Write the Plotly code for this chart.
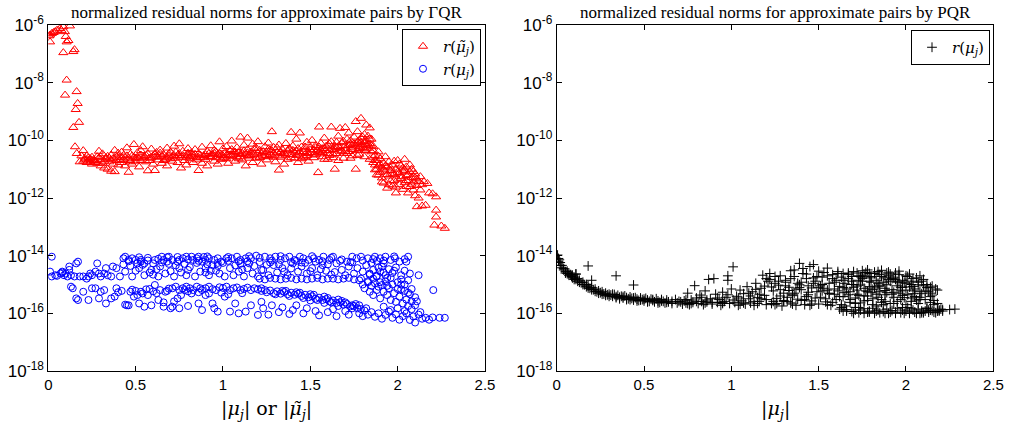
import plotly.graph_objects as go

# ---- left panel: Gamma-QR approximate pairs ----
red_mu = [
    0.005, 0.01, 0.01, 0.02, 0.03, 0.04, 0.05, 0.067, 0.075, 0.086,
    0.095, 0.10, 0.105, 0.115, 0.124, 0.086, 0.143, 0.15, 0.105, 0.096,
    0.162, 0.168, 0.157, 0.143, 0.176, 0.153, 0.163, 0.20, 0.18, 0.19,
    0.20, 0.21, 0.22, 0.22, 0.23, 0.24, 0.25, 0.25, 0.26, 0.27,
    0.28, 0.28, 0.29, 0.30, 0.30, 0.31, 0.32, 0.32, 0.33, 0.34,
    0.34, 0.35, 0.36, 0.36, 0.37, 0.38, 0.38, 0.39, 0.40, 0.40,
    0.41, 0.42, 0.42, 0.43, 0.44, 0.45, 0.45, 0.46, 0.47, 0.47,
    0.48, 0.49, 0.49, 0.50, 0.51, 0.52, 0.52, 0.53, 0.54, 0.55,
    0.56, 0.57, 0.57, 0.58, 0.59, 0.60, 0.60, 0.61, 0.62, 0.63,
    0.64, 0.65, 0.65, 0.66, 0.67, 0.68, 0.68, 0.69, 0.70, 0.71,
    0.72, 0.72, 0.73, 0.74, 0.75, 0.75, 0.76, 0.76, 0.77, 0.78,
    0.79, 0.80, 0.80, 0.81, 0.82, 0.83, 0.83, 0.84, 0.85, 0.86,
    0.86, 0.87, 0.88, 0.88, 0.89, 0.90, 0.91, 0.91, 0.92, 0.93,
    0.94, 0.95, 0.95, 0.96, 0.97, 0.98, 0.98, 0.99, 1.00, 1.00,
    1.01, 1.02, 1.02, 1.03, 1.04, 1.05, 1.05, 1.06, 1.07, 1.08,
    1.08, 1.09, 1.10, 1.11, 1.11, 1.12, 1.13, 1.14, 1.14, 1.15,
    1.16, 1.17, 1.17, 1.18, 1.19, 1.20, 1.20, 1.21, 1.22, 1.23,
    1.24, 1.25, 1.25, 1.26, 1.27, 1.28, 1.28, 1.29, 1.30, 1.31,
    1.32, 1.32, 1.33, 1.34, 1.35, 1.35, 1.36, 1.37, 1.38, 1.39,
    1.39, 1.40, 1.41, 1.42, 1.42, 1.43, 1.44, 1.44, 1.45, 1.46,
    1.47, 1.48, 1.48, 1.49, 1.50, 1.51, 1.51, 1.52, 1.53, 1.54,
    1.545, 1.55, 1.56, 1.56, 1.57, 1.58, 1.58, 1.59, 1.60, 1.61,
    1.62, 1.62, 1.63, 1.64, 1.64, 1.65, 1.66, 1.67, 1.67, 1.68,
    1.69, 1.70, 1.70, 1.71, 1.72, 1.72, 1.73, 1.74, 1.74, 1.75,
    1.76, 1.76, 1.77, 1.77, 1.78, 1.78, 1.79, 1.79, 1.80, 1.81,
    1.81, 1.82, 1.82, 1.83, 1.83, 1.84, 1.84, 1.85, 1.85, 1.86,
    1.86, 1.86, 1.87, 1.87, 1.88, 1.88, 1.89, 1.89, 1.90, 1.90,
    1.91, 1.91, 1.92, 1.92, 1.93, 1.93, 1.94, 1.94, 1.95, 1.95,
    1.96, 1.96, 1.97, 1.97, 1.98, 1.98, 1.99, 1.99, 2.00, 2.00,
    2.01, 2.01, 2.02, 2.02, 2.03, 2.03, 2.04, 2.04, 2.05, 2.05,
    2.06, 2.06, 2.07, 2.07, 2.08, 2.08, 2.09, 2.09, 2.10, 2.10,
    2.11, 2.11, 2.12, 2.12, 2.13, 2.13, 2.14, 2.15, 2.17, 2.18,
    2.20, 2.22, 2.11, 2.14, 2.16, 2.22, 2.22, 2.21, 2.25, 2.27,
    1.02, 1.06, 1.10, 1.13, 1.16, 1.19, 1.22, 1.26, 1.29, 1.33,
    1.36, 1.40, 1.43, 1.46, 1.49, 1.52, 1.55, 1.58, 1.61, 1.64,
    1.66, 1.68, 1.70, 1.72, 1.74, 1.76, 1.78, 1.80, 1.82, 1.84,
    0.26, 0.33, 0.39, 0.44, 0.50, 0.55, 0.62, 0.68, 0.74, 0.81,
    0.87, 0.93, 0.97, 1.04, 1.09, 1.15, 1.21, 1.27, 1.34, 1.41,
    1.47, 1.53, 1.57, 1.60, 1.63, 1.66, 1.69, 1.73, 1.77, 1.81,
    0.21, 0.24, 0.27, 0.29, 0.31, 0.35, 0.37, 0.41, 0.43, 0.46,
    0.48, 0.51, 0.53, 0.56, 0.58, 0.61, 0.63, 0.66, 0.69, 0.71,
    0.73, 0.77, 0.79, 0.82, 0.84, 0.89, 0.92, 0.94, 0.96, 0.99,
    1.01, 1.03, 1.07, 1.09, 1.12, 1.15, 1.18, 1.21, 1.23, 1.26,
    1.29, 1.31, 1.34, 1.37, 1.39, 1.42, 1.45, 1.47, 1.50, 1.53,
    1.55, 1.57, 1.59, 1.61, 1.63, 1.65, 1.67, 1.69, 1.71, 1.73,
    1.75, 1.77, 1.78, 1.79, 1.80, 1.81, 1.83, 1.84, 1.85, 1.86,
    1.87, 1.88, 1.89, 1.90, 1.92, 1.94, 1.96, 1.98, 2.00, 2.02,
    2.04, 2.06, 2.08, 2.10, 2.03, 2.07, 1.99, 1.95, 1.91, 2.05,
    0.23, 0.30, 0.36, 0.42, 0.47, 0.53, 0.59, 0.64, 0.70, 0.75,
    0.80, 0.85, 0.90, 0.95, 1.00, 1.05, 1.10, 1.14, 1.19, 1.24,
    1.28, 1.33, 1.38, 1.43, 1.48, 1.52, 1.56, 1.60, 1.65, 1.70,
    1.74, 1.78, 1.82, 1.87, 1.89, 1.93, 1.97, 2.01, 2.05, 2.09,
]
red_res = [
    4.2e-7, 4.5e-7, 2.6e-7, 5.1e-7, 5.5e-7, 5.9e-7, 6.6e-7, 7.6e-7, 6.5e-7, 8.7e-7,
    5.9e-7, 4.0e-7, 2.6e-7, 2.9e-7, 9.3e-7, 1.1e-7, 1.2e-7, 1.4e-7, 1.23e-8, 3.7e-9,
    4.9e-9, 1.9e-9, 1.17e-9, 2.8e-10, 4.2e-10, 6.0e-11, 3.5e-11, 4.4e-11, 1.8e-11, 2.9e-11,
    1.9e-11, 2.4e-11, 1.7e-11, 2.9e-11, 2.1e-11, 1.8e-11, 2.6e-11, 1.5e-11, 2.2e-11, 1.9e-11,
    2.7e-11, 1.6e-11, 4.2e-11, 2.2e-11, 1.3e-11, 3.4e-11, 1.9e-11, 1.1e-11, 2.5e-11, 1.0e-11,
    2.8e-11, 1.8e-11, 8.5e-12, 3.1e-11, 2.3e-11, 8.2e-12, 4.5e-11, 2.0e-11, 1.4e-11, 3.6e-11,
    2.6e-11, 1.7e-11, 3.9e-11, 2.2e-11, 1.3e-11, 2.9e-11, 5.5e-11, 7.8e-12, 2.0e-11, 3.3e-11,
    1.5e-11, 7.2e-11, 2.6e-11, 1.9e-11, 3.7e-11, 2.3e-11, 1.2e-11, 4.4e-11, 6.0e-11, 2.8e-11,
    1.8e-11, 8.8e-12, 3.4e-11, 2.4e-11, 5.0e-11, 1.5e-11, 2.9e-11, 9.0e-12, 3.8e-11, 2.1e-11,
    4.6e-11, 2.7e-11, 1.6e-11, 3.2e-11, 2.2e-11, 5.4e-11, 1.3e-11, 2.9e-11, 3.9e-11, 1.9e-11,
    3.0e-11, 6.3e-11, 2.4e-11, 1.7e-11, 7.6e-11, 3.5e-11, 1.1e-11, 2.6e-11, 4.2e-11, 2.0e-11,
    1.4e-11, 3.1e-11, 5.2e-11, 2.3e-11, 3.7e-11, 1.7e-11, 2.8e-11, 4.8e-11, 2.1e-11, 9.0e-12,
    3.4e-11, 2.5e-11, 1.6e-11, 5.8e-11, 3.0e-11, 2.2e-11, 4.1e-11, 1.3e-11, 2.7e-11, 6.5e-11,
    3.3e-11, 1.9e-11, 4.5e-11, 2.5e-11, 1.5e-11, 8.9e-11, 3.6e-11, 2.2e-11, 5.1e-11, 2.9e-11,
    3.7e-11, 2.3e-11, 6.1e-11, 1.6e-11, 4.4e-11, 2.8e-11, 9.5e-11, 3.3e-11, 1.9e-11, 5.6e-11,
    2.6e-11, 4.0e-11, 1.3e-10, 2.1e-11, 3.5e-11, 6.8e-11, 1.3e-11, 4.7e-11, 1.2e-10, 2.9e-11,
    3.9e-11, 1.7e-11, 7.4e-11, 5.2e-11, 2.4e-11, 3.6e-11, 9.0e-11, 4.5e-11, 1.5e-11, 2.8e-11,
    6.0e-11, 3.8e-11, 2.1e-11, 8.1e-11, 4.6e-11, 2.0e-10, 3.0e-11, 5.7e-11, 1.8e-11, 3.9e-11,
    9.3e-12, 6.9e-11, 2.6e-11, 4.8e-11, 1.5e-11, 3.5e-11, 7.8e-11, 2.2e-11, 5.3e-11, 1.9e-10,
    3.2e-11, 6.4e-11, 2.4e-11, 4.2e-11, 1.1e-10, 1.7e-11, 1.8e-10, 3.7e-11, 5.9e-11, 2.7e-11,
    4.9e-11, 8.6e-11, 3.0e-11, 1.9e-11, 5.6e-11, 3.8e-11, 1.0e-10, 2.5e-11, 6.6e-11, 4.3e-11,
    7.6e-12, 2.9e-10, 3.4e-11, 7.9e-11, 5.1e-11, 2.2e-11, 1.2e-10, 4.4e-11, 6.8e-11, 3.0e-11,
    2.9e-10, 9.0e-11, 4.8e-11, 1.0e-11, 6.2e-11, 3.5e-11, 1.4e-10, 2.6e-10, 5.4e-11, 8.3e-11,
    2.4e-11, 2.8e-10, 6.6e-11, 1.1e-10, 4.1e-11, 1.8e-10, 7.3e-11, 2.9e-11, 5.5e-11, 1.3e-10,
    4.5e-10, 1.0e-11, 8.8e-11, 2.0e-10, 6.0e-11, 3.3e-11, 5.8e-10, 1.2e-10, 7.1e-11, 4.6e-11,
    1.6e-10, 3.4e-10, 9.4e-11, 5.3e-11, 1.4e-10, 2.7e-10, 7.7e-11, 4.0e-11, 1.1e-10, 2.6e-11,
    6.2e-11, 1.7e-11, 3.0e-11, 9.5e-12, 6.4e-12, 2.0e-11, 1.3e-11, 4.0e-11, 7.8e-12, 2.3e-11,
    1.1e-11, 5.0e-12, 1.6e-11, 3.3e-12, 8.5e-12, 2.7e-11, 2.2e-12, 1.2e-11, 5.8e-12, 1.8e-11,
    3.9e-12, 9.0e-12, 1.4e-11, 2.6e-12, 6.6e-12, 1.9e-11, 1.5e-12, 1.0e-11, 4.5e-12, 2.0e-11,
    7.5e-12, 2.9e-12, 1.3e-11, 4.8e-12, 2.0e-12, 8.6e-12, 2.2e-11, 3.4e-12, 6.0e-12, 1.2e-11,
    1.5e-12, 4.0e-12, 8.0e-12, 2.5e-12, 5.2e-12, 1.0e-11, 1.9e-12, 3.6e-12, 6.8e-12, 1.2e-12,
    4.6e-12, 2.7e-12, 1.0e-12, 3.8e-12, 5.5e-12, 1.9e-12, 2.9e-12, 3.7e-12, 3.2e-12, 1.5e-12,
    1.4e-12, 1.1e-12, 5.0e-13, 5.3e-13, 5.6e-13, 3.8e-13, 2.2e-13, 1.15e-13, 1.07e-13, 8.9e-14,
    3.0e-11, 4.1e-11, 2.7e-11, 3.3e-11, 2.9e-11, 4.3e-11, 3.4e-11, 2.7e-11, 3.6e-11, 4.0e-11,
    3.1e-11, 4.5e-11, 3.3e-11, 4.1e-11, 3.5e-11, 4.7e-11, 4.0e-11, 5.2e-11, 4.4e-11, 5.0e-11,
    6.1e-11, 4.3e-11, 5.0e-11, 6.6e-11, 4.8e-11, 6.3e-11, 8.0e-11, 5.6e-11, 6.7e-11, 2.2e-11,
    2.0e-11, 2.2e-11, 2.6e-11, 2.0e-11, 2.4e-11, 2.6e-11, 2.8e-11, 2.5e-11, 3.0e-11, 2.7e-11,
    3.1e-11, 2.6e-11, 3.2e-11, 3.0e-11, 3.6e-11, 3.0e-11, 2.6e-11, 3.2e-11, 2.9e-11, 3.7e-11,
    2.5e-11, 3.1e-11, 2.7e-11, 2.2e-11, 2.5e-11, 2.0e-11, 3.6e-11, 2.4e-11, 3.0e-11, 2.7e-11,
    2.1e-11, 2.3e-11, 1.7e-11, 2.5e-11, 1.6e-11, 2.4e-11, 1.5e-11, 2.1e-11, 3.0e-11, 2.4e-11,
    2.9e-11, 2.6e-11, 2.0e-11, 3.0e-11, 2.0e-11, 3.3e-11, 2.6e-11, 2.0e-11, 3.4e-11, 2.7e-11,
    3.9e-11, 3.0e-11, 2.5e-11, 2.9e-11, 3.3e-11, 2.6e-11, 3.5e-11, 2.8e-11, 4.0e-11, 3.0e-11,
    2.6e-11, 3.1e-11, 3.9e-11, 2.3e-11, 4.3e-11, 2.4e-11, 3.2e-11, 2.5e-11, 4.1e-11, 5.0e-11,
    2.6e-11, 5.5e-11, 3.4e-11, 4.3e-11, 2.5e-11, 3.0e-11, 2.3e-11, 5.9e-11, 4.7e-11, 5.6e-11,
    5.9e-11, 3.8e-11, 6.2e-11, 7.5e-11, 3.3e-11, 8.5e-11, 4.2e-11, 9.2e-11, 3.5e-11, 9.8e-11,
    7.6e-11, 4.4e-11, 1.0e-10, 8.5e-11, 1.3e-10, 9.0e-11, 7.0e-11, 1.1e-10, 6.4e-11, 4.4e-11,
    1.4e-11, 1.0e-11, 6.2e-12, 1.5e-11, 9.5e-12, 6.5e-12, 1.1e-11, 4.0e-12, 7.8e-12, 5.5e-12,
    9.2e-12, 6.4e-12, 3.0e-12, 5.0e-12, 1.1e-11, 1.4e-11, 2.4e-12, 2.9e-12, 3.6e-12, 2.5e-12,
    2.5e-11, 2.7e-11, 2.1e-11, 2.6e-11, 1.8e-11, 3.1e-11, 2.5e-11, 3.6e-11, 2.3e-11, 2.9e-11,
    3.6e-11, 2.5e-11, 3.2e-11, 3.6e-11, 2.4e-11, 4.8e-11, 3.2e-11, 3.7e-11, 5.4e-11, 3.0e-11,
    4.4e-11, 3.7e-11, 4.9e-11, 5.2e-11, 3.8e-11, 3.3e-11, 4.6e-11, 3.5e-11, 5.6e-11, 4.2e-11,
    7.0e-11, 5.2e-11, 4.4e-11, 2.0e-11, 2.8e-11, 1.3e-11, 7.0e-12, 1.5e-11, 4.0e-12, 8.4e-12,
]

blue_mu = [
    0.02, 0.01, 0.02, 0.04, 0.07, 0.08, 0.09, 0.10, 0.11, 0.12,
    0.12, 0.13, 0.15, 0.16, 0.17, 0.18, 0.20, 0.22, 0.23, 0.24,
    0.25, 0.27, 0.29, 0.30, 0.32, 0.33, 0.34, 0.36, 0.37, 0.39,
    0.41, 0.28, 0.43, 0.44, 0.46, 0.48, 0.50, 0.51, 0.53, 0.53,
    0.55, 0.60, 0.61, 0.65, 0.66, 0.68, 0.69, 0.71, 0.74, 0.75,
    0.77, 0.79, 0.82, 0.83, 0.85, 0.86, 0.88, 0.90, 0.92, 0.95,
    0.97, 0.99, 1.02, 1.05, 1.08, 1.10, 1.13, 1.15, 1.16, 1.19,
    0.44, 0.48, 0.52, 0.55, 0.59, 0.63, 0.64, 0.67, 0.72, 0.75,
    0.79, 0.80, 0.84, 0.87, 0.90, 0.92, 0.94, 0.98, 1.01, 1.04,
    1.06, 1.09, 1.12, 1.14, 1.17, 1.20, 1.22, 0.58, 0.70, 0.96,
    0.13, 0.14, 0.16, 0.17, 0.20, 0.23, 0.25, 0.27, 0.29, 0.30,
    0.32, 0.33, 0.36, 0.38, 0.39, 0.45, 0.46, 0.49, 0.51, 0.52,
    0.54, 0.57, 0.59, 0.61, 0.63, 0.66, 0.67, 0.70, 0.71, 0.74,
    0.75, 0.76, 0.78, 0.82, 0.86, 0.88, 0.90, 0.92, 0.94, 0.95,
    0.97, 1.01, 1.04, 1.07, 1.09, 1.13, 1.16, 1.20, 1.22, 0.47,
    0.42, 0.48, 0.53, 0.56, 0.60, 0.64, 0.69, 0.71, 0.73, 0.75,
    0.77, 0.79, 0.81, 0.83, 0.85, 0.87, 0.88, 0.90, 0.92, 0.94,
    0.96, 0.98, 1.00, 1.02, 1.04, 1.06, 1.08, 1.10, 1.12, 1.14,
    1.16, 1.18, 1.20, 1.22, 1.24, 0.99, 1.03, 1.11, 0.86, 0.80,
    1.24, 1.27, 1.30, 1.33, 1.355, 1.38, 1.41, 1.44, 1.46, 1.49,
    1.52, 1.55, 1.575, 1.61, 1.63, 1.71, 1.74, 1.765, 1.79, 1.83,
    1.87, 1.90, 1.93, 1.96, 1.985, 2.01, 2.05, 2.06, 1.88, 1.92,
    1.23, 1.26, 1.29, 1.31, 1.34, 1.37, 1.40, 1.43, 1.45, 1.48,
    1.51, 1.54, 1.57, 1.59, 1.62, 1.65, 1.68, 1.72, 1.75, 1.77,
    1.80, 1.82, 1.84, 1.86, 1.88, 1.90, 1.91, 1.93, 1.95, 1.97,
    1.99, 2.02, 2.04, 2.07, 2.12, 1.85, 1.89, 1.94, 1.79, 1.83,
    1.21, 1.24, 1.27, 1.30, 1.33, 1.36, 1.39, 1.42, 1.45, 1.48,
    1.51, 1.54, 1.57, 1.60, 1.63, 1.66, 1.69, 1.72, 1.75, 1.78,
    1.80, 1.81, 1.83, 1.84, 1.85, 1.86, 1.87, 1.88, 1.89, 1.90,
    1.91, 1.92, 1.93, 1.94, 1.95, 1.96, 1.97, 1.98, 1.99, 2.00,
    2.01, 2.02, 2.03, 2.04, 2.05, 2.06, 2.07, 2.08, 2.10, 2.204,
    1.22, 1.25, 1.27, 1.29, 1.31, 1.33, 1.35, 1.37, 1.39, 1.41,
    1.43, 1.45, 1.47, 1.49, 1.51, 1.53, 1.55, 1.57, 1.59, 1.61,
    1.63, 1.65, 1.67, 1.69, 1.71, 1.73, 1.75, 1.77, 1.79, 1.81,
    1.36, 1.44, 1.52, 1.60, 1.68, 1.76, 1.50, 1.58, 1.66, 1.74,
    1.23, 1.26, 1.28, 1.32, 1.34, 1.38, 1.40, 1.42, 1.46, 1.48,
    1.53, 1.55, 1.60, 1.63, 1.65, 1.70, 1.72, 1.78, 1.80, 1.83,
    1.85, 1.87, 1.89, 1.91, 1.93, 1.95, 1.97, 1.99, 2.01, 2.03,
    2.05, 2.07, 2.09, 2.10, 2.12, 2.14, 2.16, 2.18, 2.20, 2.24,
    2.27, 1.96, 2.00, 2.04, 2.08, 2.13, 1.92, 2.11, 2.06, 2.02,
    0.43, 0.47, 0.50, 0.54, 0.57, 0.62, 0.65, 0.68, 0.73, 0.76,
    0.78, 0.81, 0.85, 0.89, 0.91, 0.93, 0.97, 1.00, 1.03, 1.07,
    1.10, 1.11, 1.14, 1.18, 1.21, 1.25, 1.28, 1.32, 1.35, 1.39,
    1.42, 1.47, 1.50, 1.53, 1.56, 1.60, 1.64, 1.67, 1.70, 1.73,
    1.30, 1.34, 1.38, 1.42, 1.46, 1.50, 1.54, 1.58, 1.62, 1.66,
    1.70, 1.74, 1.78, 1.82, 1.84, 1.86, 1.88, 1.90, 1.92, 1.94,
    1.96, 1.98, 2.00, 2.02, 2.04, 2.06, 2.08, 2.10, 0.05, 0.08,
    0.40, 0.44, 0.50, 0.55, 0.58, 0.62, 0.66, 0.68, 0.72, 0.80,
    0.46, 0.52, 0.57, 0.63, 0.69, 0.74, 0.80, 0.86, 0.91, 0.97,
    1.03, 1.09, 1.15, 1.21, 1.27, 1.33, 1.39, 1.45, 1.51, 1.57,
    1.62, 1.68, 1.74, 1.80, 1.86, 1.92, 1.98, 2.04, 0.60, 0.90,
]
blue_res = [
    9.2e-15, 2.8e-15, 1.9e-15, 2.1e-15, 2.4e-15, 2.8e-15, 2.1e-15, 2.4e-15, 1.9e-15, 3.2e-15,
    4.2e-15, 2.1e-15, 1.9e-15, 5.4e-15, 6.2e-15, 1.9e-15, 1.9e-15, 1.6e-15, 1.9e-15, 2.4e-15,
    2.1e-15, 2.8e-15, 2.4e-15, 1.9e-15, 2.4e-15, 3.7e-15, 2.1e-15, 1.9e-15, 4.2e-15, 3.7e-15,
    1.9e-15, 5.4e-15, 8.1e-15, 9.2e-15, 7.1e-15, 8.1e-15, 7.1e-15, 5.4e-15, 6.2e-15, 7.1e-15,
    5.4e-15, 5.4e-15, 7.1e-15, 9.2e-15, 7.1e-15, 6.2e-15, 9.2e-15, 7.1e-15, 6.2e-15, 7.1e-15,
    8.1e-15, 9.2e-15, 9.2e-15, 7.1e-15, 8.1e-15, 9.2e-15, 6.2e-15, 7.1e-15, 8.1e-15, 7.1e-15,
    8.1e-15, 6.2e-15, 8.1e-15, 8.1e-15, 9.2e-15, 7.1e-15, 8.1e-15, 5.4e-15, 8.1e-15, 1.0e-14,
    2.8e-15, 1.9e-15, 3.7e-15, 2.1e-15, 3.2e-15, 1.9e-15, 4.2e-15, 2.4e-15, 1.9e-15, 3.7e-15,
    2.1e-15, 3.2e-15, 1.9e-15, 2.8e-15, 3.7e-15, 2.1e-15, 4.7e-15, 2.4e-15, 1.9e-15, 3.7e-15,
    2.1e-15, 2.8e-15, 1.9e-15, 3.7e-15, 2.4e-15, 1.9e-15, 3.2e-15, 2.6e-15, 2.9e-15, 3.0e-15,
    8.4e-16, 7.4e-16, 3.3e-16, 2.9e-16, 5.6e-16, 2.9e-16, 7.4e-16, 7.4e-16, 3.3e-16, 5.6e-16,
    6.4e-16, 2.2e-16, 3.3e-16, 3.8e-16, 7.4e-16, 1.9e-16, 1.9e-16, 3.8e-16, 4.3e-16, 2.2e-16,
    4.9e-16, 4.3e-16, 1.9e-16, 9.6e-16, 2.9e-16, 1.7e-16, 5.6e-16, 1.5e-16, 1.7e-16, 3.3e-16,
    1.5e-16, 4.3e-16, 6.4e-16, 4.9e-16, 2.2e-16, 1.3e-16, 4.3e-16, 4.9e-16, 2.2e-16, 1.5e-16,
    1.15e-16, 3.8e-16, 1.15e-16, 2.2e-16, 1.0e-16, 1.15e-16, 1.9e-16, 8.8e-17, 2.5e-16, 5.6e-16,
    6.0e-16, 6.6e-16, 5.6e-16, 6.8e-16, 5.8e-16, 6.4e-16, 7.2e-16, 7.4e-16, 8.4e-16, 6.4e-16,
    7.4e-16, 8.4e-16, 7.4e-16, 6.4e-16, 8.4e-16, 7.4e-16, 6.4e-16, 7.4e-16, 8.4e-16, 6.9e-16,
    6.4e-16, 8.0e-16, 7.6e-16, 8.4e-16, 6.4e-16, 7.4e-16, 7.9e-16, 6.4e-16, 7.0e-16, 7.8e-16,
    6.4e-16, 7.4e-16, 6.8e-16, 7.4e-16, 6.4e-16, 5.2e-16, 4.6e-16, 5.0e-16, 5.4e-16, 5.8e-16,
    9.2e-15, 8.1e-15, 9.2e-15, 7.1e-15, 8.1e-15, 9.2e-15, 7.1e-15, 9.2e-15, 8.1e-15, 7.1e-15,
    8.1e-15, 7.1e-15, 9.2e-15, 7.1e-15, 9.2e-15, 6.2e-15, 9.2e-15, 8.1e-15, 9.2e-15, 8.1e-15,
    9.2e-15, 8.1e-15, 9.2e-15, 7.1e-15, 8.1e-15, 6.2e-15, 6.2e-15, 9.2e-15, 6.6e-15, 5.4e-15,
    3.2e-15, 2.1e-15, 4.7e-15, 2.6e-15, 3.7e-15, 2.1e-15, 5.4e-15, 2.8e-15, 4.2e-15, 2.4e-15,
    3.7e-15, 2.1e-15, 4.7e-15, 3.0e-15, 2.2e-15, 5.4e-15, 3.2e-15, 4.2e-15, 2.4e-15, 3.7e-15,
    2.8e-15, 4.7e-15, 2.2e-15, 3.2e-15, 1.9e-15, 2.8e-15, 4.2e-15, 2.1e-15, 3.4e-15, 2.5e-15,
    3.9e-15, 2.1e-15, 3.0e-15, 2.4e-15, 2.1e-15, 5.6e-15, 3.8e-15, 1.7e-15, 1.6e-15, 1.3e-15,
    1.6e-15, 1.5e-15, 1.7e-15, 1.6e-15, 1.5e-15, 1.6e-15, 1.7e-15, 1.5e-15, 1.6e-15, 1.5e-15,
    1.6e-15, 1.7e-15, 1.5e-15, 1.6e-15, 1.6e-15, 1.5e-15, 1.6e-15, 1.7e-15, 1.5e-15, 1.4e-15,
    1.0e-15, 7.4e-16, 1.2e-15, 5.6e-16, 9.0e-16, 4.3e-16, 1.1e-15, 6.4e-16, 8.4e-16, 3.3e-16,
    9.6e-16, 5.6e-16, 1.3e-15, 4.3e-16, 7.4e-16, 2.9e-16, 1.0e-15, 5.0e-16, 2.5e-16, 7.0e-16,
    3.8e-16, 1.5e-15, 2.2e-16, 6.0e-16, 3.0e-16, 1.8e-16, 4.6e-16, 2.6e-16, 1.9e-16, 6.4e-16,
    6.0e-16, 5.4e-16, 6.2e-16, 5.0e-16, 5.8e-16, 4.8e-16, 5.5e-16, 4.6e-16, 5.2e-16, 4.4e-16,
    4.8e-16, 4.0e-16, 4.4e-16, 3.6e-16, 3.9e-16, 3.2e-16, 3.5e-16, 2.9e-16, 3.1e-16, 2.6e-16,
    2.8e-16, 2.3e-16, 2.4e-16, 2.0e-16, 2.1e-16, 1.75e-16, 1.8e-16, 1.5e-16, 1.4e-16, 1.25e-16,
    6.0e-16, 5.2e-16, 4.4e-16, 3.4e-16, 2.7e-16, 2.1e-16, 2.8e-16, 2.3e-16, 1.8e-16, 1.5e-16,
    1.5e-16, 9.0e-17, 1.9e-16, 1.1e-16, 1.6e-16, 9.5e-17, 1.3e-16, 1.9e-16, 1.0e-16, 1.5e-16,
    1.2e-16, 8.5e-17, 1.1e-16, 1.4e-16, 8.0e-17, 1.2e-16, 9.0e-17, 1.0e-16, 8.0e-17, 9.0e-17,
    1.1e-16, 7.6e-17, 1.0e-16, 6.5e-17, 8.8e-17, 1.15e-16, 7.0e-17, 9.2e-17, 6.0e-17, 8.0e-17,
    1.0e-16, 5.9e-17, 7.8e-17, 4.8e-17, 9.0e-17, 6.5e-17, 7.0e-17, 6.0e-17, 7.2e-17, 7.0e-17,
    7.0e-17, 1.3e-16, 1.5e-16, 1.2e-16, 1.4e-16, 1.1e-16, 1.7e-16, 2.6e-16, 1.4e-15, 1.0e-15,
    5.0e-15, 4.4e-15, 3.0e-15, 4.8e-15, 8.4e-15, 3.4e-15, 5.8e-15, 8.8e-15, 4.6e-15, 2.6e-15,
    5.2e-15, 4.0e-15, 5.6e-15, 9.0e-15, 5.0e-15, 3.0e-15, 4.4e-15, 5.6e-15, 6.6e-15, 4.6e-15,
    5.2e-15, 3.3e-15, 6.4e-15, 4.4e-15, 6.0e-15, 4.8e-15, 6.8e-15, 5.0e-15, 2.8e-15, 3.6e-15,
    6.6e-15, 5.6e-15, 2.9e-15, 6.2e-15, 3.4e-15, 5.0e-15, 2.7e-15, 6.6e-15, 2.1e-15, 6.0e-15,
    4.6e-16, 6.0e-16, 4.0e-16, 5.4e-16, 3.4e-16, 4.6e-16, 2.9e-16, 3.8e-16, 2.4e-16, 3.0e-16,
    2.4e-16, 1.9e-16, 1.9e-16, 1.5e-16, 2.4e-15, 1.6e-15, 2.0e-15, 1.2e-15, 2.6e-15, 9.0e-16,
    1.7e-15, 3.0e-15, 1.2e-15, 6.8e-16, 1.0e-15, 5.2e-16, 7.0e-16, 3.6e-16, 2.0e-15, 2.6e-15,
    5.4e-16, 2.0e-16, 6.0e-16, 1.7e-16, 7.0e-16, 5.0e-16, 2.4e-16, 6.0e-16, 2.6e-16, 1.8e-16,
    6.4e-15, 8.8e-15, 6.8e-15, 7.8e-15, 5.2e-15, 9.0e-15, 7.4e-15, 6.6e-15, 9.4e-15, 5.6e-15,
    9.0e-15, 6.4e-15, 9.6e-15, 8.4e-15, 5.8e-15, 9.6e-15, 6.0e-15, 5.8e-15, 9.6e-15, 6.4e-15,
    8.4e-15, 7.4e-15, 5.8e-15, 6.8e-15, 7.6e-15, 6.8e-15, 9.4e-15, 7.6e-15, 2.2e-15, 2.6e-15,
]

# ---- right panel: PQR pairs ----
pqr_mu = [
    0.005, 0.01, 0.01, 0.02, 0.02, 0.03, 0.04, 0.05, 0.05, 0.06,
    0.07, 0.08, 0.085, 0.09, 0.10, 0.11, 0.11, 0.12, 0.13, 0.14,
    0.15, 0.16, 0.17, 0.18, 0.19, 0.20, 0.21, 0.22, 0.23, 0.24,
    0.25, 0.26, 0.27, 0.28, 0.29, 0.30, 0.31, 0.32, 0.33, 0.34,
    0.35, 0.36, 0.37, 0.38, 0.39, 0.40, 0.41, 0.42, 0.43, 0.44,
    0.45, 0.46, 0.47, 0.48, 0.49, 0.50, 0.51, 0.52, 0.53, 0.54,
    0.55, 0.56, 0.57, 0.58, 0.59, 0.60, 0.61, 0.62, 0.63, 0.64,
    0.18, 0.20, 0.34, 0.44, 0.11, 0.015, 0.66, 0.68, 0.70, 0.72,
    0.73, 0.74, 0.75, 0.76, 0.77, 0.78, 0.79, 0.80, 0.81, 0.82,
    0.83, 0.84, 0.85, 0.86, 0.87, 0.88, 0.89, 0.90, 0.91, 0.92,
    0.93, 0.94, 0.95, 0.96, 0.97, 0.98, 0.98, 0.99, 1.00, 1.01,
    1.02, 1.03, 1.04, 1.05, 1.06, 1.07, 1.08, 1.09, 1.10, 1.11,
    1.12, 1.13, 1.14, 1.15, 1.16, 1.17, 1.18, 1.19, 1.20, 1.21,
    1.22, 1.23, 1.24, 1.25, 1.26, 1.27, 1.28, 1.29, 1.30, 1.31,
    1.32, 1.33, 1.34, 1.35, 1.36, 1.37, 1.38, 1.39, 1.40, 1.41,
    1.42, 1.43, 1.44, 1.45, 1.46, 1.47, 1.48, 1.49, 1.50, 1.51,
    1.52, 1.53, 1.54, 1.55, 1.56, 1.57, 1.58, 1.59, 1.60, 1.61,
    1.62, 1.63, 1.64, 1.65, 1.66, 1.67, 1.68, 1.69, 1.70, 1.71,
    1.72, 1.73, 1.74, 1.75, 1.76, 1.77, 1.78, 1.79, 1.80, 1.81,
    1.82, 1.83, 1.84, 1.85, 1.86, 1.87, 1.88, 1.89, 1.90, 1.91,
    1.92, 1.93, 1.94, 1.95, 1.96, 1.97, 1.98, 1.99, 2.00, 2.01,
    2.02, 2.03, 2.04, 2.05, 2.06, 2.07, 2.08, 2.09, 2.10, 2.11,
    2.12, 2.13, 2.14, 2.15, 2.16, 2.17, 2.18, 2.19, 2.20, 2.21,
    2.25, 2.28, 2.14, 2.18, 2.12, 2.16, 1.99, 2.03, 2.07, 2.05,
    1.20, 1.24, 1.28, 1.32, 1.36, 1.40, 1.44, 1.48, 1.52, 1.56,
    1.60, 1.64, 1.68, 1.72, 1.76, 1.80, 1.84, 1.88, 1.92, 1.96,
    1.70, 1.73, 1.76, 1.79, 1.82, 1.85, 1.88, 1.91, 1.94, 1.97,
    1.65, 1.70, 1.75, 1.80, 1.85, 1.90, 1.95, 2.00, 2.05, 2.10,
    1.63, 1.68, 1.73, 1.78, 1.83, 1.88, 1.93, 1.98, 2.03, 2.08,
    0.75, 0.85, 0.95, 1.05, 1.15, 1.25, 1.35, 1.45, 1.55, 1.65,
    0.03, 0.04, 0.06, 0.07, 0.09, 0.10, 0.12, 0.13, 0.15, 0.17,
    0.18, 0.20, 0.22, 0.24, 0.26, 0.28, 0.30, 0.32, 0.34, 0.36,
    0.38, 0.40, 0.42, 0.44, 0.46, 0.48, 0.50, 0.52, 0.55, 0.58,
    0.60, 0.63, 0.66, 0.69, 0.71, 0.74, 0.77, 0.80, 0.83, 0.86,
    0.89, 0.92, 0.95, 0.98, 1.01, 1.04, 1.07, 1.10, 1.13, 1.16,
    1.19, 1.22, 1.25, 1.28, 1.31, 1.34, 1.37, 1.40, 1.43, 1.46,
    1.49, 1.52, 1.55, 1.58, 1.61, 1.64, 1.67, 1.70, 1.73, 1.76,
    1.79, 1.82, 1.85, 1.88, 1.91, 1.94, 1.97, 2.00, 2.03, 2.06,
    1.62, 1.66, 1.71, 1.74, 1.78, 1.81, 1.86, 1.89, 1.93, 1.98,
    2.01, 2.04, 2.08, 2.11, 2.14, 1.69, 1.75, 1.83, 1.90, 1.96,
    1.26, 1.30, 1.34, 1.38, 1.42, 1.46, 1.50, 1.54, 1.58, 1.62,
    2.00, 2.02, 2.05, 2.08, 2.10, 2.13, 2.15, 2.17, 2.19, 2.21,
    1.11, 1.14, 1.17, 1.20, 1.23, 1.27, 1.30, 1.33, 1.36, 1.39,
    1.41, 1.44, 1.47, 1.50, 1.53, 1.56, 1.59, 1.61, 1.64, 1.67,
    1.69, 1.72, 1.74, 1.77, 1.79, 1.82, 1.84, 1.87, 1.89, 1.92,
    1.94, 1.97, 1.99, 2.02, 2.04, 2.07, 2.09, 2.12, 2.13, 2.15,
    1.71, 1.73, 1.76, 1.78, 1.81, 1.83, 1.86, 1.88, 1.91, 1.93,
    1.95, 1.98, 2.00, 2.03, 2.06, 2.09, 2.11, 2.14, 2.16, 2.18,
    1.64, 1.66, 1.69, 1.71, 1.74, 1.76, 1.79, 1.81, 1.84, 1.87,
    1.89, 1.92, 1.95, 1.98, 2.01, 2.04, 2.07, 2.09, 2.12, 2.14,
    1.31, 1.35, 1.39, 1.43, 1.47, 1.51, 1.55, 1.59, 1.63, 1.67,
    1.72, 1.78, 1.84, 1.90, 1.96, 2.02, 2.08, 1.75, 1.80, 1.86,
]
pqr_res = [
    1.05e-14, 8.0e-15, 6.4e-15, 5.8e-15, 4.6e-15, 3.8e-15, 3.2e-15, 2.8e-15, 2.5e-15, 2.4e-15,
    2.1e-15, 2.2e-15, 1.9e-15, 1.7e-15, 1.8e-15, 1.5e-15, 2.3e-15, 1.3e-15, 1.4e-15, 1.15e-15,
    1.2e-15, 9.8e-16, 8.4e-16, 9.0e-16, 7.4e-16, 7.8e-16, 6.6e-16, 6.9e-16, 5.6e-16, 6.0e-16,
    5.2e-16, 5.6e-16, 4.7e-16, 5.0e-16, 4.4e-16, 4.6e-16, 4.3e-16, 3.9e-16, 4.5e-16, 3.8e-16,
    4.2e-16, 3.6e-16, 3.9e-16, 3.4e-16, 4.0e-16, 3.5e-16, 3.2e-16, 3.7e-16, 3.3e-16, 2.9e-16,
    3.5e-16, 3.1e-16, 2.8e-16, 3.4e-16, 3.0e-16, 2.7e-16, 3.3e-16, 2.9e-16, 2.6e-16, 3.1e-16,
    2.8e-16, 2.5e-16, 3.2e-16, 2.7e-16, 2.4e-16, 3.0e-16, 2.6e-16, 2.3e-16, 2.9e-16, 2.5e-16,
    4.4e-15, 1.4e-15, 2.0e-15, 9.6e-16, 2.3e-15, 7.2e-15, 2.2e-16, 3.0e-16, 2.6e-16, 2.1e-16,
    2.7e-16, 2.3e-16, 5.0e-16, 2.0e-16, 2.9e-16, 2.4e-16, 9.1e-16, 3.4e-16, 2.2e-16, 4.3e-16,
    2.6e-16, 2.0e-16, 6.0e-16, 2.5e-16, 1.5e-15, 3.2e-16, 2.1e-16, 1.6e-15, 4.6e-16, 2.4e-16,
    3.0e-16, 1.9e-16, 5.4e-16, 2.6e-16, 3.6e-16, 2.0e-15, 1.4e-15, 2.2e-16, 7.0e-16, 4.1e-15,
    2.4e-16, 3.9e-16, 1.9e-16, 6.4e-16, 2.7e-16, 4.8e-16, 2.1e-16, 8.4e-16, 3.2e-16, 2.3e-16,
    5.6e-16, 1.9e-16, 1.1e-15, 3.5e-16, 2.6e-16, 7.4e-16, 2.1e-15, 4.2e-16, 2.0e-16, 1.3e-15,
    2.4e-15, 2.2e-16, 6.0e-16, 1.9e-15, 3.3e-16, 9.5e-16, 2.0e-15, 1.8e-16, 5.0e-16, 1.4e-15,
    2.6e-16, 8.0e-16, 3.0e-15, 4.1e-16, 3.2e-15, 1.9e-16, 1.1e-15, 5.4e-15, 6.6e-16, 2.4e-15,
    3.0e-16, 1.6e-15, 9.0e-16, 4.2e-15, 2.1e-16, 4.9e-15, 1.3e-15, 5.6e-16, 2.9e-15, 3.6e-16,
    1.8e-15, 7.4e-16, 2.5e-16, 3.7e-15, 1.1e-15, 1.9e-16, 2.2e-15, 4.6e-16, 1.4e-15, 2.8e-15,
    8.6e-16, 1.6e-16, 2.4e-15, 5.2e-16, 1.2e-16, 1.6e-15, 3.0e-16, 1.0e-15, 2.8e-15, 1.3e-16,
    6.4e-16, 2.0e-15, 2.3e-16, 1.3e-15, 4.0e-16, 2.6e-15, 1.1e-16, 8.4e-16, 1.7e-15, 3.2e-16,
    2.4e-15, 1.2e-16, 1.1e-15, 5.6e-16, 1.9e-15, 2.0e-16, 7.4e-16, 2.5e-15, 1.0e-16, 1.3e-15,
    4.6e-16, 1.8e-15, 1.1e-16, 9.0e-16, 2.2e-15, 3.0e-16, 1.4e-15, 1.0e-16, 6.4e-16, 1.9e-15,
    1.1e-16, 1.0e-15, 1.6e-15, 3.8e-16, 1.0e-16, 1.2e-15, 5.6e-16, 1.05e-16, 9.0e-16, 1.2e-16,
    1.0e-15, 1.3e-16, 5.0e-16, 4.3e-16, 1.1e-16, 7.0e-16, 1.2e-16, 1.3e-16, 1.4e-16, 1.2e-16,
    1.35e-16, 1.4e-16, 8.0e-16, 6.4e-16, 1.5e-16, 2.0e-16, 3.5e-16, 2.6e-16, 2.2e-16, 7.0e-16,
    3.0e-16, 2.6e-16, 4.0e-16, 3.6e-16, 5.0e-16, 2.8e-16, 4.4e-16, 3.4e-16, 6.0e-16, 4.8e-16,
    3.0e-16, 3.8e-16, 5.6e-16, 4.6e-16, 7.4e-16, 5.2e-16, 3.6e-16, 4.4e-16, 6.6e-16, 5.0e-16,
    1.0e-16, 1.05e-16, 1.0e-16, 1.1e-16, 1.0e-16, 1.05e-16, 1.0e-16, 1.1e-16, 1.0e-16, 1.05e-16,
    1.1e-15, 8.0e-16, 1.8e-15, 1.2e-15, 9.4e-16, 1.5e-15, 1.2e-15, 1.1e-15, 6.0e-16, 1.5e-15,
    2.0e-16, 2.4e-16, 1.6e-16, 2.8e-16, 1.8e-16, 2.6e-16, 2.2e-16, 1.6e-16, 1.5e-16, 3.0e-16,
    2.2e-16, 2.3e-16, 2.2e-16, 2.1e-16, 2.2e-16, 2.0e-16, 2.1e-16, 1.9e-16, 2.0e-16, 1.8e-16,
    4.6e-15, 3.6e-15, 2.9e-15, 2.5e-15, 2.1e-15, 1.5e-15, 1.6e-15, 1.2e-15, 1.0e-15, 1.0e-15,
    7.6e-16, 6.6e-16, 5.8e-16, 5.0e-16, 4.6e-16, 4.2e-16, 3.9e-16, 4.6e-16, 3.5e-16, 3.2e-16,
    3.8e-16, 3.0e-16, 3.0e-16, 3.4e-16, 2.7e-16, 2.9e-16, 3.1e-16, 2.5e-16, 3.0e-16, 2.3e-16,
    2.7e-16, 2.4e-16, 2.6e-16, 2.3e-16, 2.5e-16, 3.0e-16, 2.2e-16, 2.6e-16, 3.6e-16, 2.9e-16,
    2.4e-16, 3.4e-16, 2.4e-16, 4.4e-16, 2.9e-16, 3.4e-16, 2.3e-16, 5.0e-16, 2.6e-16, 4.6e-16,
    8.8e-16, 1.5e-15, 1.1e-15, 6.6e-16, 9.0e-16, 1.6e-15, 7.0e-16, 1.2e-15, 2.3e-15, 7.6e-16,
    1.9e-15, 1.0e-15, 6.4e-16, 1.6e-15, 6.0e-16, 1.4e-15, 2.2e-15, 1.0e-15, 1.4e-15, 2.1e-15,
    2.4e-15, 7.6e-16, 2.2e-15, 1.7e-15, 2.3e-15, 1.5e-15, 8.0e-16, 2.0e-15, 1.3e-15, 1.7e-15,
    3.8e-16, 7.0e-16, 3.4e-16, 9.6e-16, 4.0e-16, 6.8e-16, 3.0e-16, 9.8e-16, 3.6e-16, 8.0e-16,
    4.4e-16, 8.6e-16, 3.6e-16, 6.0e-16, 2.4e-16, 1.9e-15, 1.6e-15, 1.4e-15, 2.0e-15, 1.3e-15,
    2.2e-16, 2.8e-16, 2.3e-16, 3.1e-16, 2.0e-16, 2.7e-16, 2.1e-16, 3.2e-16, 2.4e-16, 1.4e-16,
    1.2e-16, 1.0e-16, 1.1e-16, 1.0e-16, 1.05e-16, 1.1e-16, 1.25e-16, 1.05e-16, 1.2e-16, 1.35e-16,
    4.0e-16, 6.8e-16, 3.2e-16, 1.6e-15, 8.2e-16, 1.3e-15, 2.6e-16, 6.2e-16, 1.9e-15, 9.8e-16,
    3.6e-15, 5.4e-16, 1.1e-15, 8.0e-16, 2.6e-15, 5.0e-16, 1.2e-15, 2.4e-15, 7.8e-16, 4.4e-16,
    1.3e-15, 8.8e-16, 1.9e-15, 6.0e-16, 1.3e-15, 2.7e-15, 8.4e-16, 1.2e-15, 5.2e-16, 1.6e-15,
    2.5e-15, 6.0e-16, 1.2e-15, 8.2e-16, 4.8e-16, 9.8e-16, 1.3e-15, 7.8e-16, 5.6e-16, 8.8e-16,
    2.2e-16, 4.2e-16, 2.7e-16, 5.8e-16, 2.0e-16, 4.6e-16, 2.4e-16, 6.2e-16, 2.2e-16, 5.4e-16,
    2.6e-16, 4.2e-16, 2.0e-16, 3.4e-16, 2.9e-16, 4.8e-16, 3.0e-16, 3.8e-16, 2.8e-16, 2.2e-16,
    1.2e-16, 1.35e-16, 1.15e-16, 1.6e-16, 1.3e-16, 1.45e-16, 1.2e-16, 1.5e-16, 1.3e-16, 1.15e-16,
    1.4e-16, 1.25e-16, 1.5e-16, 1.3e-16, 1.6e-16, 1.3e-16, 1.4e-16, 1.2e-16, 1.5e-16, 1.3e-16,
    1.2e-15, 4.6e-16, 7.8e-16, 3.8e-16, 1.7e-15, 9.0e-16, 2.0e-15, 7.0e-16, 1.8e-15, 2.5e-15,
    2.5e-15, 3.2e-15, 2.8e-15, 2.7e-15, 2.9e-15, 2.3e-15, 2.0e-15, 3.0e-15, 1.9e-15, 3.1e-15,
]

assert len(red_mu) == len(red_res)
assert len(blue_mu) == len(blue_res)
assert len(pqr_mu) == len(pqr_res)

x_ticks = [0, 0.5, 1, 1.5, 2, 2.5]
x_labels = ["0", "0.5", "1", "1.5", "2", "2.5"]
y_exps = [-18, -16, -14, -12, -10, -8, -6]
y_ticks = [10.0 ** e for e in y_exps]
y_labels = ["10<sup>%d</sup>" % e for e in y_exps]

titles = ["normalized residual norms for approximate pairs by \u0393QR",
          "normalized residual norms for approximate pairs by PQR"]
mu_t = "<i>\u03bc\u0303<sub>j</sub></i>"
mu = "<i>\u03bc<sub>j</sub></i>"
xlabels = ["|" + mu + "| or |" + mu_t + "|", "|" + mu + "|"]

serif = "DejaVu Serif, Liberation Serif, serif"
title_font = "Liberation Serif, DejaVu Serif, serif"
sans = "Liberation Sans, Arial, sans-serif"

fig = go.Figure()

fig.add_trace(go.Scatter(
    x=red_mu, y=red_res, mode="markers",
    name="<i>r</i>(" + mu_t + ")",
    marker=dict(symbol="triangle-up-open", size=8, color="#ff0000",
                line=dict(width=1, color="#ff0000")),
    xaxis="x", yaxis="y", legend="legend"))
fig.add_trace(go.Scatter(
    x=blue_mu, y=blue_res, mode="markers",
    name="<i>r</i>(" + mu + ")",
    marker=dict(symbol="circle-open", size=7, color="#0000ff",
                line=dict(width=1, color="#0000ff")),
    xaxis="x", yaxis="y", legend="legend"))
fig.add_trace(go.Scatter(
    x=pqr_mu, y=pqr_res, mode="markers",
    name="<i>r</i>(" + mu + ")",
    marker=dict(symbol="cross-thin-open", size=7, color="#000000",
                line=dict(width=1, color="#000000")),
    xaxis="x2", yaxis="y2", legend="legend2"))

xdoms = [[48.3 / 1014, 485.0 / 1014], [556.7 / 1014, 993.3 / 1014]]
ydom = [1 - 371.0 / 429, 1 - 25.0 / 429]

axis_common = dict(showline=True, linecolor="black", linewidth=1, mirror="ticks",
                   ticks="inside", ticklen=5, tickcolor="black", showgrid=False,
                   zeroline=False, automargin=False)
xfont = dict(family=sans, size=15, color="black")
yfont = dict(family=sans, size=17, color="black")

fig.update_layout(
    template="none",
    width=1014, height=429,
    margin=dict(l=0, r=0, t=0, b=0),
    paper_bgcolor="white", plot_bgcolor="white",
    showlegend=True,
    xaxis=dict(domain=xdoms[0], range=[0, 2.5], tickvals=x_ticks, ticktext=x_labels,
               anchor="y", tickfont=xfont, **axis_common),
    yaxis=dict(domain=ydom, type="log", range=[-18, -6], tickvals=y_ticks,
               ticktext=y_labels, anchor="x", tickfont=yfont, **axis_common),
    xaxis2=dict(domain=xdoms[1], range=[0, 2.5], tickvals=x_ticks, ticktext=x_labels,
                anchor="y2", tickfont=xfont, **axis_common),
    yaxis2=dict(domain=ydom, type="log", range=[-18, -6], tickvals=y_ticks,
                ticktext=y_labels, anchor="x2", tickfont=yfont, **axis_common),
    legend=dict(x=481.0 / 1014, y=1 - 29.0 / 429, xanchor="right", yanchor="top",
                bgcolor="white", bordercolor="black", borderwidth=1,
                font=dict(family=serif, size=15, color="black"),
                tracegroupgap=0, itemsizing="trace", itemwidth=30),
    legend2=dict(x=990.0 / 1014, y=1 - 30.0 / 429, xanchor="right", yanchor="top",
                 bgcolor="white", bordercolor="black", borderwidth=1,
                 font=dict(family=serif, size=15, color="black"),
                 itemsizing="trace", itemwidth=30),
)

for i in range(2):
    cx = (xdoms[i][0] + xdoms[i][1]) / 2
    fig.add_annotation(text=titles[i], x=cx, y=1 - 12.0 / 429, xref="paper", yref="paper",
                       xanchor="center", yanchor="middle", showarrow=False,
                       font=dict(family=title_font, size=17, color="black"))
    fig.add_annotation(text=xlabels[i], x=cx, y=1 - 409.0 / 429, xref="paper", yref="paper",
                       xanchor="center", yanchor="middle", showarrow=False,
                       font=dict(family=serif, size=19, color="black"))

fig.write_html("out.html", config={"displayModeBar": False},
               post_script="document.body.style.margin='0';document.body.style.padding='0';")
